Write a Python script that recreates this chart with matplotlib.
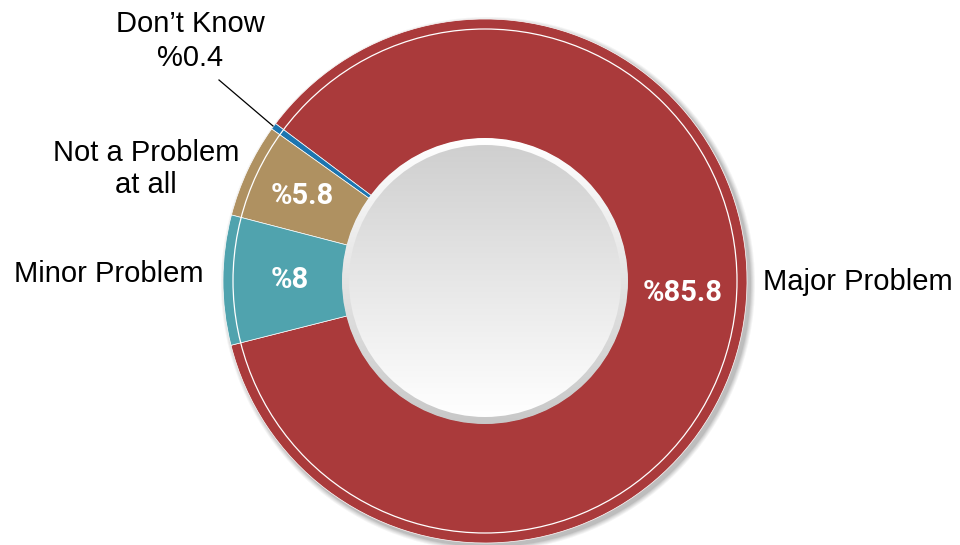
import numpy as np
import matplotlib
matplotlib.use("Agg")
import matplotlib.pyplot as plt
from matplotlib.patches import Circle

# ---- data ----
categories = ["Major Problem", "Don\u2019t Know", "Not a Problem\nat all", "Minor Problem"]
values = [85.8, 0.4, 5.8, 8.0]
inner_labels = ["%85.8", "", "%5.8", "%8"]
colors = ["#AA3A3B", "#1C75B0", "#AF9161", "#50A3AE"]

W, H = 960, 545
fig = plt.figure(figsize=(W / 100, H / 100), dpi=100)
ax = fig.add_axes([0, 0, 1, 1])
ax.set_xlim(0, W)
ax.set_ylim(0, H)
ax.set_aspect("equal")
ax.axis("off")

cx, cy = 485, 264
R, r_in = 262, 142
start = 194.2

# drop shadow of the ring
for i, a in enumerate([0.05, 0.06, 0.07, 0.08, 0.10]):
    ax.add_patch(Circle((cx + 3, cy - 3), R + 5 - i, color="#333333", alpha=a, lw=0, zorder=1))

wedges, _ = ax.pie(values, colors=colors, startangle=start, counterclock=True,
                   radius=R, center=(cx, cy),
                   wedgeprops=dict(width=R - r_in, edgecolor="white", linewidth=0.5))
for w in wedges:
    w.set_zorder(2)
ax.set_xlim(0, W)
ax.set_ylim(0, H)

# thin white inner line on the ring
ax.add_patch(Circle((cx, cy), R - 10, fill=False, ec="white", lw=0.9, zorder=3))

# inner embossed disc
def grad_disc(radius, top, bottom, z):
    n = 256
    t = np.linspace(0, 1, n)[:, None]
    top = np.array(matplotlib.colors.to_rgb(top))
    bottom = np.array(matplotlib.colors.to_rgb(bottom))
    img = top[None, None, :] * (1 - t[..., None]) + bottom[None, None, :] * t[..., None]
    img = np.repeat(img, 2, axis=1)
    im = ax.imshow(img, extent=(cx - radius, cx + radius, cy - radius, cy + radius),
                   origin="upper", zorder=z, interpolation="bilinear")
    clip = Circle((cx, cy), radius, transform=ax.transData)
    im.set_clip_path(clip)

grad_disc(r_in + 1, "#FFFFFF", "#C8C8C8", 4)
grad_disc(r_in - 6, "#CFCFCF", "#FFFFFF", 5)
ax.set_xlim(0, W)
ax.set_ylim(0, H)

# inner value labels
cum = start
angles = []
for v in values:
    ang = cum + v * 3.6 / 2
    angles.append(ang)
    cum += v * 3.6
angles[0] = -3.5  # major label sits near horizontal
label_r = [198, 0, 202, 195]
for lab, ang, lr in zip(inner_labels, angles, label_r):
    if not lab:
        continue
    x = cx + lr * np.cos(np.radians(ang))
    y = cy + lr * np.sin(np.radians(ang))
    ax.text(x, y, lab, color="white", fontsize=21, fontweight="bold",
            family="Roboto", ha="center", va="center", zorder=6)

# outer category labels
tf = dict(fontsize=21, family="Liberation Sans", color="black", zorder=6)
ax.text(763, 263, categories[0], ha="left", va="center", **tf)
ax.text(109, 271, categories[3], ha="center", va="center", **tf)
ax.text(146, 376, categories[2], ha="center", va="center", linespacing=1.15, **tf)
ax.text(190, 504, categories[1] + "\n%" + f"{values[1]}", ha="center", va="center",
        linespacing=1.3, **tf)
ax.plot([219, 273], [465, 419], color="black", lw=0.9, zorder=6)

fig.savefig("out.png", dpi=100)
